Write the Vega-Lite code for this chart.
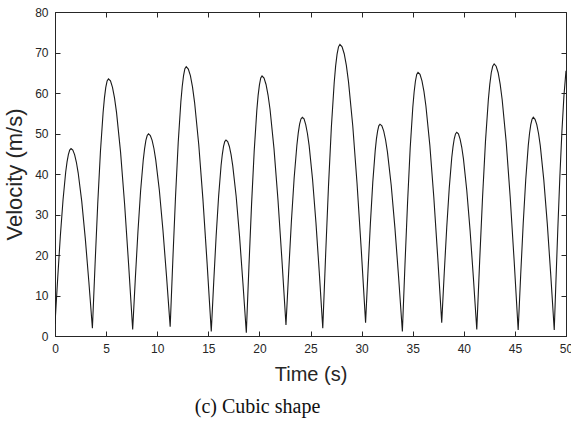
{
  "$schema": "https://vega.github.io/schema/vega-lite/v6.json",
  "width": 511,
  "height": 324,
  "autosize": "none",
  "padding": {"left": 55, "top": 12, "right": 5, "bottom": 92},
  "background": "white",
  "config": {
    "view": {"stroke": "#262626", "strokeWidth": 1},
    "font": "Liberation Sans",
    "axis": {"grid": false, "domainColor": "#262626", "tickColor": "#262626", "labelColor": "#262626", "titleColor": "#262626", "labelFont": "Liberation Sans", "titleFont": "Liberation Sans", "titleFontWeight": "normal", "labelFontSize": 12, "tickSize": -5, "tickWidth": 1}
  },
  "title": {"text": "(c) Cubic shape", "orient": "bottom", "font": "Liberation Serif", "fontSize": 20, "fontWeight": "normal", "color": "#111111", "anchor": "middle", "dx": -53, "offset": 13},
  "data": {"values": [
    {"t":0,"v":3},{"t":0.262,"v":14.2},{"t":0.523,"v":24.7},{"t":0.785,"v":33.6},{"t":1.047,"v":40.5},{"t":1.178,"v":43.0},{"t":1.308,"v":44.8},{"t":1.439,"v":45.9},{"t":1.57,"v":46.3},{"t":1.744,"v":45.9},{"t":1.918,"v":44.8},{"t":2.093,"v":42.9},{"t":2.267,"v":40.3},{"t":2.615,"v":33.3},{"t":2.963,"v":24.1},{"t":3.312,"v":13.4},{"t":3.66,"v":1.9},
    {"t":3.922,"v":17.8},{"t":4.183,"v":32.7},{"t":4.445,"v":45.5},{"t":4.707,"v":55.2},{"t":4.838,"v":58.8},{"t":4.968,"v":61.4},{"t":5.099,"v":63.0},{"t":5.23,"v":63.5},{"t":5.428,"v":63.0},{"t":5.625,"v":61.4},{"t":5.823,"v":58.8},{"t":6.02,"v":55.2},{"t":6.415,"v":45.4},{"t":6.81,"v":32.6},{"t":7.205,"v":17.6},{"t":7.6,"v":1.6},
    {"t":7.858,"v":14.1},{"t":8.117,"v":25.8},{"t":8.375,"v":35.8},{"t":8.633,"v":43.4},{"t":8.763,"v":46.2},{"t":8.892,"v":48.3},{"t":9.021,"v":49.5},{"t":9.15,"v":49.9},{"t":9.327,"v":49.5},{"t":9.503,"v":48.3},{"t":9.68,"v":46.3},{"t":9.857,"v":43.5},{"t":10.21,"v":36.0},{"t":10.563,"v":26.1},{"t":10.917,"v":14.6},{"t":11.27,"v":2.3},
    {"t":11.532,"v":18.9},{"t":11.793,"v":34.4},{"t":12.055,"v":47.7},{"t":12.317,"v":57.9},{"t":12.448,"v":61.6},{"t":12.578,"v":64.3},{"t":12.709,"v":66.0},{"t":12.84,"v":66.5},{"t":13.044,"v":65.9},{"t":13.248,"v":64.3},{"t":13.453,"v":61.5},{"t":13.657,"v":57.7},{"t":14.065,"v":47.3},{"t":14.473,"v":33.8},{"t":14.882,"v":18.0},{"t":15.29,"v":1.1},
    {"t":15.53,"v":13.3},{"t":15.77,"v":24.8},{"t":16.01,"v":34.5},{"t":16.25,"v":42.1},{"t":16.37,"v":44.8},{"t":16.49,"v":46.8},{"t":16.61,"v":48.0},{"t":16.73,"v":48.4},{"t":16.896,"v":48.0},{"t":17.062,"v":46.8},{"t":17.228,"v":44.8},{"t":17.393,"v":42.0},{"t":17.725,"v":34.5},{"t":18.057,"v":24.6},{"t":18.388,"v":13.1},{"t":18.72,"v":0.8},
    {"t":18.977,"v":17.2},{"t":19.233,"v":32.5},{"t":19.49,"v":45.6},{"t":19.747,"v":55.7},{"t":19.875,"v":59.4},{"t":20.003,"v":62.0},{"t":20.132,"v":63.7},{"t":20.26,"v":64.2},{"t":20.455,"v":63.7},{"t":20.65,"v":62.1},{"t":20.845,"v":59.5},{"t":21.04,"v":56.0},{"t":21.43,"v":46.2},{"t":21.82,"v":33.5},{"t":22.21,"v":18.6},{"t":22.6,"v":2.7},
    {"t":22.867,"v":16.0},{"t":23.133,"v":28.4},{"t":23.4,"v":39.0},{"t":23.667,"v":47.1},{"t":23.8,"v":50.1},{"t":23.933,"v":52.3},{"t":24.067,"v":53.6},{"t":24.2,"v":54},{"t":24.367,"v":53.6},{"t":24.533,"v":52.2},{"t":24.7,"v":50.0},{"t":24.867,"v":47.0},{"t":25.2,"v":38.7},{"t":25.533,"v":28.0},{"t":25.867,"v":15.4},{"t":26.2,"v":1.9},
    {"t":26.48,"v":20.0},{"t":26.76,"v":37.0},{"t":27.04,"v":51.5},{"t":27.32,"v":62.6},{"t":27.46,"v":66.7},{"t":27.6,"v":69.6},{"t":27.74,"v":71.4},{"t":27.88,"v":72},{"t":28.089,"v":71.4},{"t":28.298,"v":69.7},{"t":28.508,"v":66.8},{"t":28.717,"v":62.8},{"t":29.135,"v":51.9},{"t":29.553,"v":37.7},{"t":29.972,"v":21.1},{"t":30.39,"v":3.3},
    {"t":30.625,"v":16.0},{"t":30.86,"v":27.8},{"t":31.095,"v":38.0},{"t":31.33,"v":45.7},{"t":31.448,"v":48.6},{"t":31.565,"v":50.6},{"t":31.683,"v":51.9},{"t":31.8,"v":52.3},{"t":31.983,"v":51.9},{"t":32.165,"v":50.6},{"t":32.348,"v":48.4},{"t":32.53,"v":45.4},{"t":32.895,"v":37.3},{"t":33.26,"v":26.7},{"t":33.625,"v":14.4},{"t":33.99,"v":1.1},
    {"t":34.245,"v":17.7},{"t":34.5,"v":33.1},{"t":34.755,"v":46.4},{"t":35.01,"v":56.5},{"t":35.138,"v":60.2},{"t":35.265,"v":62.9},{"t":35.393,"v":64.6},{"t":35.52,"v":65.1},{"t":35.713,"v":64.6},{"t":35.907,"v":63.0},{"t":36.1,"v":60.4},{"t":36.293,"v":56.8},{"t":36.68,"v":47.0},{"t":37.067,"v":34.2},{"t":37.453,"v":19.3},{"t":37.84,"v":3.3},
    {"t":38.085,"v":15.5},{"t":38.33,"v":26.8},{"t":38.575,"v":36.5},{"t":38.82,"v":44.0},{"t":38.943,"v":46.7},{"t":39.065,"v":48.7},{"t":39.188,"v":49.9},{"t":39.31,"v":50.3},{"t":39.473,"v":49.9},{"t":39.637,"v":48.6},{"t":39.8,"v":46.6},{"t":39.963,"v":43.8},{"t":40.29,"v":36.0},{"t":40.617,"v":26.0},{"t":40.943,"v":14.2},{"t":41.27,"v":1.6},
    {"t":41.553,"v":18.6},{"t":41.837,"v":34.4},{"t":42.12,"v":48.0},{"t":42.403,"v":58.4},{"t":42.545,"v":62.2},{"t":42.687,"v":65.0},{"t":42.828,"v":66.6},{"t":42.97,"v":67.2},{"t":43.166,"v":66.6},{"t":43.362,"v":65.0},{"t":43.558,"v":62.2},{"t":43.753,"v":58.4},{"t":44.145,"v":48.0},{"t":44.537,"v":34.4},{"t":44.928,"v":18.5},{"t":45.32,"v":1.5},
    {"t":45.567,"v":15.1},{"t":45.813,"v":27.8},{"t":46.06,"v":38.6},{"t":46.307,"v":47.0},{"t":46.43,"v":50.0},{"t":46.553,"v":52.2},{"t":46.677,"v":53.5},{"t":46.8,"v":54},{"t":46.971,"v":53.5},{"t":47.142,"v":52.2},{"t":47.313,"v":50.0},{"t":47.483,"v":47.0},{"t":47.825,"v":38.6},{"t":48.167,"v":27.8},{"t":48.508,"v":15.1},{"t":48.85,"v":1.5},
    {"t":49.0,"v":12.4},{"t":49.2,"v":26.5},{"t":49.4,"v":39.4},{"t":49.6,"v":50.5},{"t":49.8,"v":59.4},{"t":50.0,"v":65.5}
  ]},
  "layer": [
    {
      "mark": {"type": "line", "color": "#1a1a1a", "strokeWidth": 1.1, "clip": true},
      "encoding": {
        "x": {"field": "t", "type": "quantitative", "scale": {"domain": [0, 50], "nice": false, "zero": false},
              "axis": {"orient": "bottom", "values": [0,5,10,15,20,25,30,35,40,45,50], "title": "Time (s)", "titleFontSize": 20, "labelPadding": 12, "titlePadding": 10, "labelFlush": false}},
        "y": {"field": "v", "type": "quantitative", "scale": {"domain": [0, 80], "nice": false},
              "axis": {"orient": "left", "values": [0,10,20,30,40,50,60,70,80], "title": "Velocity (m/s)", "titleFontSize": 22, "labelPadding": 12, "titlePadding": 8}}
      }
    },
    {
      "mark": {"type": "line", "opacity": 0},
      "encoding": {
        "x": {"field": "t", "type": "quantitative", "scale": {"domain": [0, 50], "nice": false, "zero": false},
              "axis": {"orient": "top", "values": [0,5,10,15,20,25,30,35,40,45,50], "labels": false, "title": null, "domain": false}},
        "y": {"field": "v", "type": "quantitative", "scale": {"domain": [0, 80], "nice": false},
              "axis": {"orient": "right", "values": [0,10,20,30,40,50,60,70,80], "labels": false, "title": null, "domain": false}}
      }
    }
  ],
  "resolve": {"axis": {"x": "independent", "y": "independent"}}
}
